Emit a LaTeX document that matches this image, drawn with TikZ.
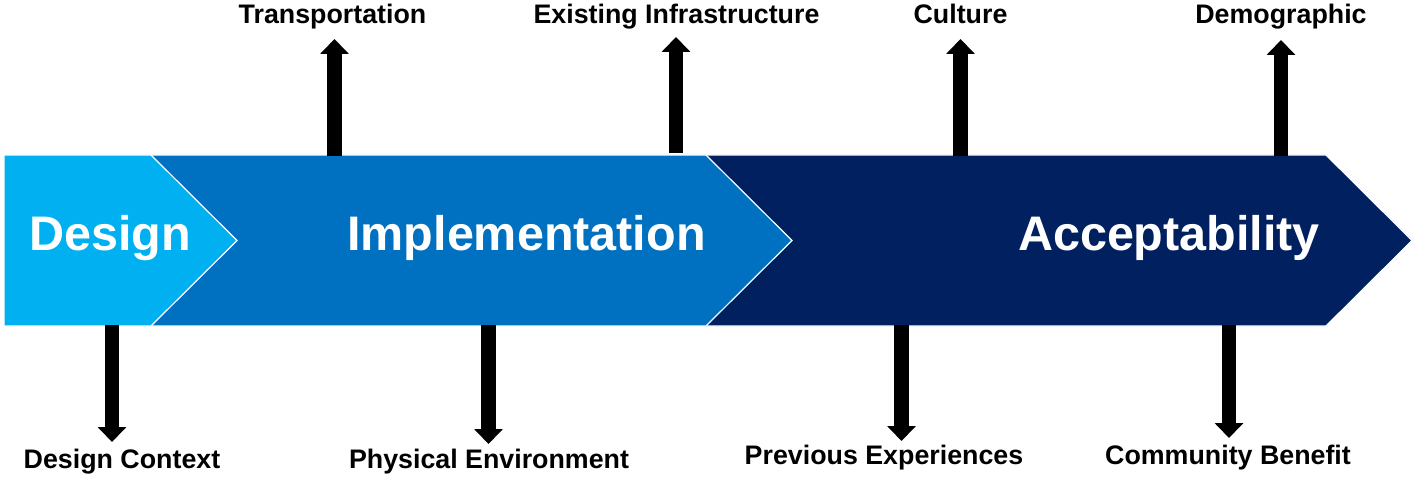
\documentclass[tikz,border=0pt]{standalone}
\usepackage{fontspec}
\setmainfont{Liberation Sans}
\usetikzlibrary{arrows.meta}
\definecolor{cdesign}{HTML}{00B0F0}
\definecolor{cimpl}{HTML}{0070C0}
\definecolor{caccept}{HTML}{002060}
\begin{document}
\begin{tikzpicture}[x=1pt,y=-1pt,
  chev/.style={draw=white,line width=1.2pt,line join=miter},
  big/.style={text=white,font=\fontsize{48.5}{50}\selectfont\bfseries,anchor=base,inner sep=0pt},
  lbl/.style={text=black,font=\fontsize{26.8}{28}\selectfont\bfseries,anchor=base,inner sep=0pt},
  fac/.style={line width=14.5pt,draw=black,-{Triangle[width=28pt,length=15pt]}}]
\useasboundingbox (0,0) rectangle (1416,486);
% chevrons
\path[chev,fill=caccept] (706,155) -- (1326,155) -- (1412,240.5) -- (1326,326) -- (706,326) -- cycle;
\path[chev,fill=cimpl] (151,155) -- (706,155) -- (792,240.5) -- (706,326) -- (151,326) -- cycle;
\path[chev,fill=cdesign] (4,155) -- (151,155) -- (237,240.5) -- (151,326) -- (4,326) -- cycle;
% stage labels
\node[big] (design) at (110,251) {Design};
\node[big] (impl) at (526.5,251) {Implementation};
\node[big] (accept) at (1169,251) {Acceptability};
% factor labels
\node[lbl] (trans) at (332.5,24) {Transportation};
\node[lbl] (infra) at (676.5,24) {Existing Infrastructure};
\node[lbl] (cult) at (960.5,24) {Culture};
\node[lbl] (demo) at (1281,24) {Demographic};
\node[lbl] (dctx) at (122,468) {Design Context};
\node[lbl] (phys) at (489,468) {Physical Environment};
\node[lbl] (prev) at (884,464) {Previous Experiences};
\node[lbl] (comm) at (1228,464) {Community Benefit};
% arrow end points
\coordinate (t1s) at (334.5,156); \coordinate (t1e) at (334.5,39);
\coordinate (t2s) at (676,153);   \coordinate (t2e) at (676,37);
\coordinate (t3s) at (960.5,156); \coordinate (t3e) at (960.5,39);
\coordinate (t4s) at (1281,156);  \coordinate (t4e) at (1281,40);
\coordinate (b1s) at (112,325);   \coordinate (b1e) at (112,442);
\coordinate (b2s) at (488.5,325); \coordinate (b2e) at (488.5,444);
\coordinate (b3s) at (901.5,325); \coordinate (b3e) at (901.5,441);
\coordinate (b4s) at (1229,325);  \coordinate (b4e) at (1229,438);
\draw[fac] (t1s) -- (t1e);
\draw[fac] (t2s) -- (t2e);
\draw[fac] (t3s) -- (t3e);
\draw[fac] (t4s) -- (t4e);
\draw[fac] (b1s) -- (b1e);
\draw[fac] (b2s) -- (b2e);
\draw[fac] (b3s) -- (b3e);
\draw[fac] (b4s) -- (b4e);
\end{tikzpicture}
\end{document}
